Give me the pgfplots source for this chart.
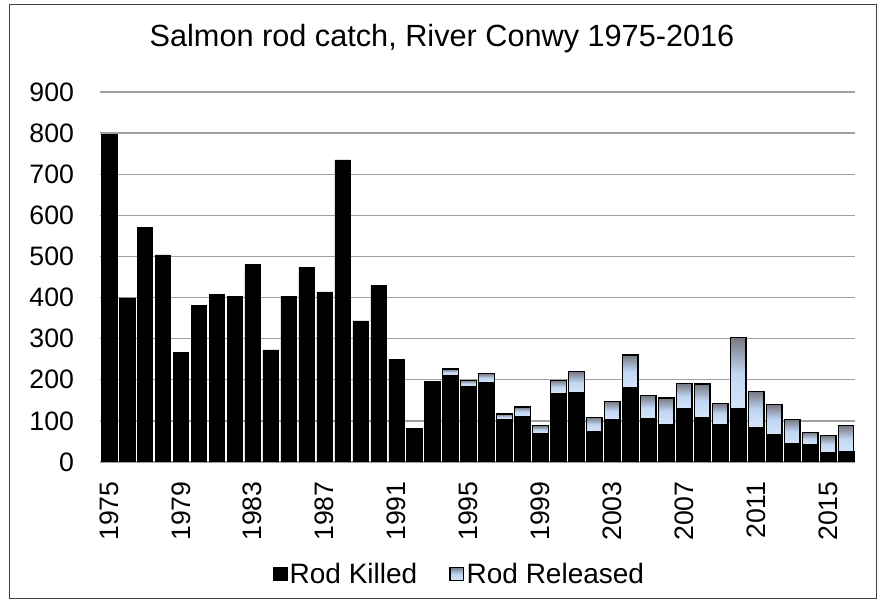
\documentclass[border=0pt]{standalone}
\usepackage{fontspec}
\setmainfont{Liberation Sans}
\usepackage{pgfplots}
\pgfplotsset{compat=1.18}
\definecolor{gridgray}{RGB}{160,160,160}
\definecolor{reltop}{RGB}{118,120,128}
\definecolor{relmid}{RGB}{192,214,242}
\definecolor{relbot}{RGB}{214,228,248}
\pgfplotsset{rel/.style={draw=black, line width=1pt, line join=miter,
  top color=reltop, bottom color=relbot, middle color=relmid}}

\begin{document}
\begin{tikzpicture}
\useasboundingbox (0,0) rectangle (664.5pt,450pt);
\draw[black!75, line width=0.75pt] (6.75pt,0.75pt) rectangle (657pt,446.25pt);
\node[font=\fontsize{23}{26}\selectfont] at (331.5pt,421pt) {Salmon rod catch, River Conwy 1975-2016};
\begin{axis}[
  at={(75pt,103.5pt)}, anchor=south west,
  scale only axis, width=566.25pt, height=277.5pt,
  xmin=1974.5, xmax=2016.5, ymin=0, ymax=900,
  xtick={1975,1979,...,2015}, ytick={0,100,...,900},
  axis lines*=left,
  y axis line style={draw=none},
  x axis line style={gridgray, line width=1pt},
  tick style={draw=none},
  ymajorgrids, grid style={gridgray, line width=1pt},
  tick label style={font=\fontsize{20}{22}\selectfont},
  /pgf/number format/assume math mode=true,
  /pgf/number format/1000 sep={},
  xticklabel style={rotate=90, anchor=east, xshift=-11pt},
  yticklabel style={xshift=-16pt},
  legend style={at={(0.4768,-0.3027)}, anchor=center, draw=none,
    legend columns=2, font=\fontsize{21}{24}\selectfont,
    /tikz/every even column/.append style={column sep=22pt},
    legend cell align=left},
  legend image code/.code={\draw[#1] (0pt,-5pt) rectangle (10pt,5pt);},
]
% Rod killed
\addplot[ybar, bar width=0.87, bar shift=0pt, fill=black, draw=black, line width=0.4pt] coordinates {
(1975,797) (1976,399) (1977,570) (1978,504) (1979,267) (1980,381)
(1981,407) (1982,403) (1983,480) (1984,273) (1985,403) (1986,474)
(1987,414) (1988,735) (1989,343) (1990,430) (1991,250) (1992,82)
(1993,197) (1994,211) (1995,183) (1996,194) (1997,102) (1998,111)
(1999,68) (2000,166) (2001,168) (2002,73) (2003,102) (2004,182)
(2005,106) (2006,92) (2007,129) (2008,108) (2009,91) (2010,130)
(2011,84) (2012,66) (2013,45) (2014,41) (2015,23) (2016,26)
};
\addlegendentry{Rod Killed}
% Rod released: one bar per year (from killed to killed+released) so each gets its own shading
\addplot[rel] coordinates {(1993.565,211) (1994.435,211) (1994.435,226) (1993.565,226)} -- cycle;
\addlegendentry{Rod Released}
\addplot[rel, forget plot] coordinates {(1994.565,183) (1995.435,183) (1995.435,199) (1994.565,199)} -- cycle;
\addplot[rel, forget plot] coordinates {(1995.565,194) (1996.435,194) (1996.435,215) (1995.565,215)} -- cycle;
\addplot[rel, forget plot] coordinates {(1996.565,102) (1997.435,102) (1997.435,117) (1996.565,117)} -- cycle;
\addplot[rel, forget plot] coordinates {(1997.565,111) (1998.435,111) (1998.435,134) (1997.565,134)} -- cycle;
\addplot[rel, forget plot] coordinates {(1998.565,68) (1999.435,68) (1999.435,88) (1998.565,88)} -- cycle;
\addplot[rel, forget plot] coordinates {(1999.565,166) (2000.435,166) (2000.435,199) (1999.565,199)} -- cycle;
\addplot[rel, forget plot] coordinates {(2000.565,168) (2001.435,168) (2001.435,220) (2000.565,220)} -- cycle;
\addplot[rel, forget plot] coordinates {(2001.565,73) (2002.435,73) (2002.435,109) (2001.565,109)} -- cycle;
\addplot[rel, forget plot] coordinates {(2002.565,102) (2003.435,102) (2003.435,147) (2002.565,147)} -- cycle;
\addplot[rel, forget plot] coordinates {(2003.565,182) (2004.435,182) (2004.435,260) (2003.565,260)} -- cycle;
\addplot[rel, forget plot] coordinates {(2004.565,106) (2005.435,106) (2005.435,161) (2004.565,161)} -- cycle;
\addplot[rel, forget plot] coordinates {(2005.565,92) (2006.435,92) (2006.435,156) (2005.565,156)} -- cycle;
\addplot[rel, forget plot] coordinates {(2006.565,129) (2007.435,129) (2007.435,191) (2006.565,191)} -- cycle;
\addplot[rel, forget plot] coordinates {(2007.565,108) (2008.435,108) (2008.435,190) (2007.565,190)} -- cycle;
\addplot[rel, forget plot] coordinates {(2008.565,91) (2009.435,91) (2009.435,143) (2008.565,143)} -- cycle;
\addplot[rel, forget plot] coordinates {(2009.565,130) (2010.435,130) (2010.435,303) (2009.565,303)} -- cycle;
\addplot[rel, forget plot] coordinates {(2010.565,84) (2011.435,84) (2011.435,172) (2010.565,172)} -- cycle;
\addplot[rel, forget plot] coordinates {(2011.565,66) (2012.435,66) (2012.435,140) (2011.565,140)} -- cycle;
\addplot[rel, forget plot] coordinates {(2012.565,45) (2013.435,45) (2013.435,104) (2012.565,104)} -- cycle;
\addplot[rel, forget plot] coordinates {(2013.565,41) (2014.435,41) (2014.435,72) (2013.565,72)} -- cycle;
\addplot[rel, forget plot] coordinates {(2014.565,23) (2015.435,23) (2015.435,64) (2014.565,64)} -- cycle;
\addplot[rel, forget plot] coordinates {(2015.565,26) (2016.435,26) (2016.435,88) (2015.565,88)} -- cycle;
\end{axis}
\end{tikzpicture}
\end{document}
